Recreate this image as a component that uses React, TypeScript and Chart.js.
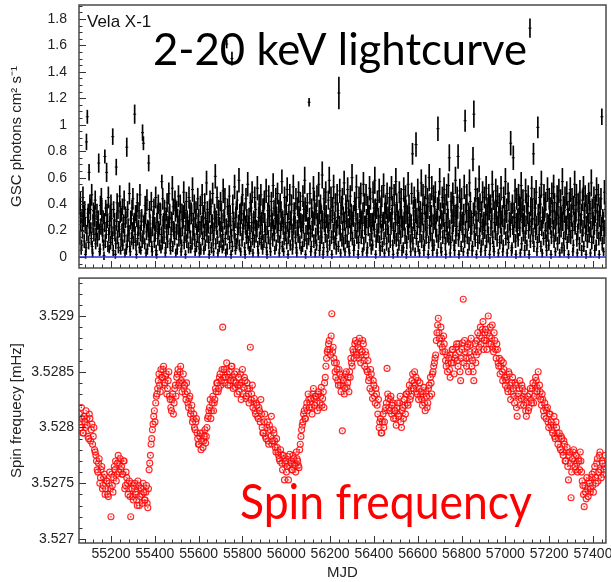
import React, { useEffect, useRef } from 'react';
import { Chart, registerables } from 'chart.js';
Chart.register(...registerables);

// ---------- axis ranges & tick labels ----------
const X_MIN = 55054;
const X_MAX = 57459;
const X_TICKS = [55200, 55400, 55600, 55800, 56000, 56200, 56400, 56600, 56800, 57000, 57200, 57400];
const LC_Y_MIN = -0.083;
const LC_Y_MAX = 1.905;
const LC_Y_TICKS = [0, 0.2, 0.4, 0.6, 0.8, 1.0, 1.2, 1.4, 1.6, 1.8];
const SPIN_Y_MIN = 3.526964;
const SPIN_Y_MAX = 3.52934;
const SPIN_Y_TICKS = [3.527, 3.5275, 3.528, 3.5285, 3.529];

// ---------- lightcurve (2-20 keV), series A: 4-day grid from MJD 55056 ----------
const LC_A_START = 55056;
const LC_STEP = 4;
const lcFluxA = [
  0.38,0.42,0.05,0.31,0.45,0.28,0.36,0.02,0.87,1.06,0.33,0.64,0.40,0.22,0.47,0.03,0.35,0.29,0.43,0.18,
  0.34,0.26,0.71,0.04,0.39,0.44,0.21,0.30,0.01,0.76,0.37,0.64,0.27,0.45,0.06,0.33,0.40,0.19,0.91,0.36,
  0.28,0.02,0.68,0.41,0.35,0.23,0.46,0.05,0.32,0.38,0.25,0.43,0.03,0.30,0.83,0.36,0.20,0.48,0.04,0.29,
  0.37,0.44,0.26,1.08,0.33,0.02,0.41,0.22,0.35,0.47,0.05,0.31,0.94,0.86,0.27,0.39,0.03,0.43,0.24,0.71,
  0.36,0.18,0.42,0.04,0.30,0.38,0.25,0.45,0.02,0.33,0.40,0.21,0.35,0.06,0.57,0.44,0.28,0.37,0.03,0.32,
  0.41,0.26,0.48,0.34,0.05,0.29,0.52,0.38,0.22,0.43,0.03,0.36,0.31,0.46,0.19,0.40,0.04,0.34,0.27,0.49,
  0.35,0.02,0.42,0.30,0.24,0.45,0.37,0.06,0.33,0.51,0.28,0.40,0.04,0.36,0.21,0.44,0.31,0.03,0.39,0.26,
  0.47,0.33,0.05,0.41,0.29,0.56,0.36,0.22,0.02,0.43,0.38,0.27,0.48,0.04,0.34,0.61,0.30,0.45,0.03,0.37,
  0.25,0.42,0.35,0.06,0.50,0.31,0.44,0.03,1.61,0.38,0.27,0.46,0.33,0.02,1.50,0.40,0.29,0.53,0.05,0.36,
  0.43,0.22,0.58,0.34,0.04,0.39,0.47,0.28,0.35,0.02,0.44,0.31,0.55,0.26,0.05,0.41,0.37,0.49,0.03,0.30,
  0.45,0.36,0.24,0.52,0.03,0.40,0.33,0.47,0.29,0.06,0.38,0.43,0.21,0.50,0.02,0.35,0.46,0.31,0.04,0.42,
  0.28,0.54,0.37,0.05,0.44,0.32,0.48,0.25,0.03,0.41,0.36,0.57,0.30,0.04,0.45,0.22,0.39,0.51,0.02,0.34,
  0.47,0.29,0.40,0.06,0.53,0.35,0.26,0.44,0.03,0.38,0.49,0.31,0.42,0.05,0.27,0.46,0.36,0.58,0.02,0.33,
  0.41,0.25,1.17,0.48,0.04,0.37,0.30,0.52,0.43,0.03,0.35,0.46,0.28,0.55,0.05,0.40,0.33,0.62,0.02,0.44,
  0.36,0.49,0.27,0.04,0.43,0.58,0.31,0.45,0.02,0.38,0.53,0.29,0.41,0.06,0.47,0.35,1.24,0.50,0.03,0.39,
  0.44,0.32,0.56,0.04,0.40,0.27,0.51,0.37,0.03,0.46,0.34,0.60,0.29,0.05,0.42,0.38,0.53,0.25,0.02,0.45,
  0.36,0.48,0.30,0.04,0.55,0.41,0.26,0.47,0.03,0.39,0.33,0.52,0.44,0.06,0.28,0.49,0.37,0.58,0.02,0.35,
  0.43,0.31,0.50,0.05,0.38,0.46,0.27,0.54,0.03,0.40,0.35,0.48,0.32,0.04,0.45,0.29,0.52,0.39,0.02,0.47,
  0.34,0.57,0.41,0.03,0.30,0.49,0.36,0.44,0.05,0.26,0.51,0.38,0.46,0.02,0.33,0.55,0.40,0.28,0.04,0.48,
  0.78,0.37,0.45,0.04,0.85,0.31,0.50,0.42,0.03,0.36,0.56,0.29,0.47,0.05,0.39,0.53,0.34,0.44,0.02,0.60,
  0.41,0.33,0.52,0.05,0.46,0.38,0.49,0.30,0.03,0.97,0.43,0.57,0.35,0.04,0.45,0.28,0.51,0.40,0.02,0.47,
  0.36,0.54,0.75,0.03,0.42,0.31,0.48,0.39,0.05,0.58,0.34,0.45,0.76,0.02,0.50,0.37,0.44,0.29,0.04,0.53,
  1.03,0.40,0.47,0.03,0.35,0.56,0.42,0.30,0.05,0.74,1.08,0.38,0.51,0.02,0.44,0.33,0.59,0.41,0.04,0.36,
  0.49,0.27,0.45,0.05,0.52,0.38,0.34,0.47,0.02,0.40,0.31,0.55,0.43,0.04,0.36,0.50,0.29,0.46,0.03,0.41,
  0.37,0.52,0.30,0.04,0.45,0.39,0.57,0.33,0.03,0.48,0.42,0.28,0.86,0.05,0.40,0.75,0.35,0.50,0.02,0.44,
  0.31,0.47,0.39,0.03,0.54,0.36,0.43,0.28,0.05,0.50,0.41,0.34,0.46,0.02,1.73,0.38,0.52,0.29,0.78,0.44,
  0.37,0.49,0.04,0.98,0.33,0.45,0.40,0.55,0.03,0.30,0.47,0.36,0.42,0.05,0.51,0.27,0.44,0.38,0.02,0.48,
  0.35,0.53,0.41,0.04,0.29,0.46,0.38,0.50,0.03,0.43,0.32,0.57,0.39,0.05,0.45,0.26,0.48,0.36,0.02,0.42,
  0.51,0.34,0.44,0.04,0.39,0.55,0.30,0.47,0.03,0.41,0.37,0.49,0.28,0.05,0.43,0.52,0.35,0.46,0.02,0.40,
  0.33,0.48,0.42,0.03,0.56,0.37,0.29,0.45,0.05,0.40,0.51,0.34,0.47,0.02,0.38,0.44,1.06,0.31,0.04,0.49,
  0.36,
];
const lcErrA = [
  .06,.07,.03,.05,.08,.05,.06,.03,.06,.05,.07,.06,.07,.04,.08,.03,.06,.05,.07,.04,
  .06,.05,.07,.03,.07,.08,.04,.05,.03,.05,.06,.07,.05,.08,.03,.06,.07,.04,.06,.06,
  .05,.03,.06,.07,.06,.04,.08,.03,.05,.06,.05,.07,.03,.05,.07,.06,.04,.08,.03,.05,
  .06,.08,.05,.07,.06,.03,.07,.04,.06,.08,.03,.05,.06,.05,.05,.07,.03,.08,.04,.06,
  .06,.04,.07,.03,.05,.06,.05,.08,.03,.06,.07,.04,.06,.03,.05,.08,.05,.06,.03,.05,
  .07,.05,.08,.06,.03,.05,.09,.06,.04,.07,.03,.06,.05,.08,.04,.07,.03,.06,.05,.08,
  .06,.03,.07,.05,.04,.08,.06,.03,.06,.09,.05,.07,.03,.06,.04,.08,.05,.03,.07,.05,
  .08,.06,.03,.07,.05,.09,.06,.04,.03,.07,.06,.05,.08,.03,.06,.09,.05,.08,.03,.06,
  .05,.07,.06,.03,.09,.05,.08,.03,.03,.06,.05,.08,.06,.03,.05,.07,.05,.09,.03,.06,
  .07,.04,.09,.06,.03,.07,.08,.05,.06,.03,.08,.05,.09,.05,.03,.07,.06,.08,.03,.05,
  .08,.06,.04,.09,.03,.07,.06,.08,.05,.04,.06,.07,.04,.09,.03,.06,.08,.05,.03,.07,
  .05,.09,.06,.03,.08,.06,.08,.05,.03,.07,.06,.09,.05,.03,.08,.04,.07,.09,.03,.06,
  .08,.05,.07,.04,.09,.06,.05,.08,.03,.07,.08,.05,.07,.03,.05,.08,.06,.10,.03,.06,
  .07,.05,.03,.08,.03,.07,.05,.09,.07,.03,.06,.08,.05,.09,.04,.07,.06,.10,.03,.08,
  .06,.08,.05,.03,.07,.10,.06,.08,.03,.07,.09,.05,.07,.04,.08,.06,.12,.09,.03,.07,
  .08,.06,.09,.03,.07,.05,.09,.06,.03,.08,.06,.10,.05,.04,.07,.06,.09,.05,.03,.08,
  .06,.08,.05,.03,.09,.07,.05,.08,.03,.07,.06,.09,.08,.04,.05,.08,.06,.10,.03,.06,
  .07,.06,.09,.04,.07,.08,.05,.09,.03,.07,.06,.08,.06,.03,.08,.05,.09,.07,.03,.08,
  .06,.10,.07,.03,.05,.08,.06,.08,.04,.05,.09,.07,.08,.03,.06,.09,.07,.05,.03,.08,
  .08,.06,.08,.03,.09,.06,.09,.07,.03,.06,.10,.05,.08,.04,.07,.09,.06,.08,.03,.10,
  .07,.06,.09,.04,.08,.07,.08,.05,.03,.09,.07,.10,.06,.03,.08,.05,.09,.07,.03,.08,
  .06,.09,.10,.03,.07,.05,.08,.07,.04,.10,.06,.08,.09,.03,.09,.07,.08,.05,.03,.09,
  .08,.07,.08,.03,.06,.10,.07,.05,.04,.09,.10,.07,.09,.03,.08,.06,.10,.07,.03,.06,
  .08,.05,.08,.04,.09,.07,.06,.08,.03,.07,.05,.10,.07,.03,.06,.09,.05,.08,.03,.07,
  .06,.09,.05,.03,.08,.07,.10,.06,.03,.08,.07,.05,.09,.04,.07,.09,.06,.09,.03,.08,
  .05,.08,.07,.03,.10,.06,.08,.05,.04,.09,.07,.06,.08,.03,.07,.07,.09,.05,.08,.08,
  .06,.09,.03,.08,.06,.08,.07,.10,.03,.05,.08,.06,.07,.04,.09,.05,.08,.07,.03,.08,
  .06,.09,.07,.03,.05,.08,.07,.09,.03,.08,.06,.10,.07,.04,.08,.05,.09,.06,.03,.07,
  .09,.06,.08,.03,.07,.10,.05,.08,.03,.07,.06,.09,.05,.04,.08,.09,.06,.08,.03,.07,
  .06,.08,.07,.03,.10,.07,.05,.08,.04,.07,.09,.06,.08,.03,.07,.08,.06,.05,.03,.09,
  .06,
];

// ---------- lightcurve series B: 4-day grid from MJD 55058 (interleaved) ----------
const LC_B_START = 55058;
const lcFluxB = [
  0.15,0.27,0.09,0.20,0.33,0.12,0.24,0.07,0.18,0.30,0.11,0.22,0.36,0.14,0.08,0.25,0.17,0.31,0.10,0.21,
  0.13,0.28,0.19,0.06,0.23,0.35,0.16,0.09,0.26,0.12,0.20,0.32,0.08,0.17,0.24,0.11,0.29,0.14,0.05,0.22,
  0.18,0.10,0.27,0.15,0.07,0.21,0.34,0.13,0.19,0.09,0.25,0.16,0.30,0.06,0.12,0.23,0.18,0.08,0.28,0.14,
  0.20,0.11,0.26,0.17,0.09,0.31,0.14,0.22,0.07,0.18,0.27,0.12,0.15,0.24,0.10,0.33,0.19,0.06,0.21,0.13,
  0.25,0.16,0.08,0.22,0.29,0.12,0.18,0.05,0.26,0.14,0.21,0.09,0.32,0.17,0.11,0.24,0.15,0.28,0.07,0.19,
  0.12,0.23,0.30,0.10,0.17,0.26,0.08,0.21,0.14,0.35,0.19,0.06,0.24,0.13,0.28,0.16,0.09,0.22,0.31,0.11,
  0.18,0.27,0.12,0.20,0.07,0.25,0.15,0.33,0.10,0.19,0.23,0.13,0.29,0.08,0.17,0.26,0.11,0.21,0.06,0.24,
  0.14,0.30,0.19,0.09,0.22,0.16,0.27,0.11,0.34,0.18,0.07,0.25,0.13,0.20,0.29,0.10,0.23,0.15,0.32,0.08,
  0.21,0.12,0.26,0.17,0.09,0.28,0.14,0.23,0.06,0.19,0.31,0.11,0.24,0.16,0.08,0.27,0.20,0.13,0.30,0.10,
  0.17,0.25,0.09,0.22,0.33,0.13,0.19,0.28,0.07,0.24,0.15,0.20,0.11,0.29,0.18,0.08,0.26,0.14,0.22,0.12,
  0.27,0.16,0.21,0.08,0.30,0.14,0.24,0.11,0.19,0.35,0.12,0.26,0.17,0.07,0.23,0.15,0.31,0.10,0.20,0.28,
  0.13,0.22,0.18,0.29,0.09,0.25,0.16,0.34,0.11,0.20,0.27,0.08,0.23,0.14,0.32,0.18,0.10,0.26,0.15,0.21,
  0.09,0.28,0.19,0.12,0.24,0.33,0.15,0.07,0.22,0.17,0.30,0.11,0.26,0.20,0.08,0.25,0.13,0.36,0.18,0.10,
  0.23,0.14,0.29,0.18,0.08,0.21,0.27,0.12,0.32,0.16,0.09,0.24,0.19,0.34,0.11,0.22,0.15,0.28,0.07,0.26,
  0.17,0.31,0.12,0.25,0.20,0.09,0.28,0.15,0.35,0.19,0.11,0.26,0.14,0.22,0.30,0.08,0.24,0.18,0.33,0.13,
  0.21,0.10,0.27,0.16,0.34,0.12,0.23,0.08,0.29,0.18,0.25,0.14,0.31,0.09,0.20,0.36,0.15,0.26,0.11,0.22,
  0.28,0.15,0.20,0.33,0.10,0.24,0.17,0.29,0.07,0.22,0.31,0.13,0.26,0.18,0.09,0.27,0.21,0.35,0.12,0.19,
  0.16,0.25,0.11,0.30,0.19,0.08,0.27,0.14,0.33,0.21,0.10,0.24,0.17,0.36,0.12,0.23,0.29,0.09,0.20,0.15,
  0.26,0.13,0.32,0.18,0.09,0.24,0.15,0.29,0.21,0.07,0.27,0.16,0.34,0.11,0.23,0.19,0.30,0.12,0.25,0.17,
  0.10,0.28,0.20,0.35,0.14,0.23,0.08,0.30,0.17,0.26,0.12,0.33,0.19,0.09,0.27,0.15,0.22,0.38,0.11,0.24,
  0.18,0.31,0.13,0.25,0.09,0.29,0.21,0.16,0.36,0.12,0.24,0.19,0.07,0.28,0.15,0.33,0.20,0.10,0.26,0.17,
  0.29,0.14,0.22,0.11,0.34,0.18,0.26,0.09,0.31,0.16,0.23,0.38,0.13,0.20,0.27,0.08,0.25,0.17,0.32,0.12,
  0.21,0.35,0.15,0.27,0.10,0.30,0.18,0.24,0.08,0.33,0.19,0.13,0.28,0.22,0.11,0.36,0.16,0.26,0.09,0.23,
  0.14,0.27,0.20,0.32,0.12,0.25,0.17,0.37,0.10,0.22,0.29,0.15,0.08,0.26,0.19,0.34,0.13,0.24,0.30,0.11,
  0.25,0.16,0.31,0.09,0.23,0.28,0.14,0.35,0.19,0.11,0.27,0.21,0.33,0.07,0.24,0.17,0.30,0.12,0.26,0.20,
  0.13,0.29,0.22,0.36,0.10,0.26,0.18,0.31,0.15,0.24,0.09,0.33,0.20,0.27,0.12,0.23,0.35,0.16,0.08,0.28,
  0.19,0.24,0.11,0.32,0.17,0.27,0.08,0.22,0.30,0.14,0.36,0.20,0.12,0.26,0.18,0.09,0.29,0.23,0.15,0.34,
  0.22,0.12,0.28,0.18,0.33,0.10,0.25,0.16,0.30,0.21,0.07,0.27,0.14,0.35,0.19,0.24,0.11,0.29,0.17,0.26,
  0.15,0.31,0.20,0.09,0.27,0.23,0.36,0.13,0.19,0.28,0.10,0.25,0.32,0.16,0.22,0.08,0.30,0.18,0.24,0.12,
  0.26,0.17,0.33,0.21,0.11,0.29,0.15,0.24,0.35,0.09,0.20,0.28,0.14,0.31,0.18,0.23,0.10,0.27,0.16,0.22,
];
const lcErrB = [
  .05,.07,.04,.06,.08,.05,.06,.04,.06,.07,.05,.06,.08,.05,.04,.07,.05,.08,.04,.06,
  .05,.07,.06,.04,.06,.08,.05,.04,.07,.05,.06,.08,.04,.05,.07,.05,.07,.05,.04,.06,
  .06,.04,.07,.05,.04,.06,.08,.05,.06,.04,.07,.05,.08,.04,.05,.06,.06,.04,.07,.05,
  .06,.05,.07,.06,.04,.08,.05,.06,.04,.06,.07,.05,.05,.07,.04,.08,.06,.04,.06,.05,
  .07,.05,.04,.06,.07,.05,.06,.04,.07,.05,.06,.04,.08,.06,.05,.07,.05,.07,.04,.06,
  .05,.06,.08,.04,.06,.07,.04,.06,.05,.08,.06,.04,.07,.05,.07,.06,.04,.06,.08,.05,
  .06,.07,.05,.06,.04,.07,.05,.08,.04,.06,.07,.05,.07,.04,.06,.07,.05,.06,.04,.07,
  .05,.08,.06,.04,.06,.05,.07,.05,.08,.06,.04,.07,.05,.06,.08,.04,.06,.05,.08,.04,
  .06,.05,.07,.06,.04,.07,.05,.06,.04,.06,.08,.05,.07,.05,.04,.07,.06,.05,.08,.04,
  .06,.07,.04,.06,.08,.05,.06,.07,.04,.07,.05,.06,.05,.08,.06,.04,.07,.05,.06,.05,
  .07,.05,.06,.04,.08,.05,.07,.05,.06,.09,.05,.07,.06,.04,.06,.05,.08,.04,.06,.07,
  .05,.06,.06,.08,.04,.07,.05,.09,.05,.06,.07,.04,.06,.05,.08,.06,.04,.07,.05,.06,
  .04,.07,.06,.05,.07,.08,.05,.04,.06,.06,.08,.05,.07,.06,.04,.07,.05,.09,.06,.04,
  .06,.05,.08,.06,.04,.06,.07,.05,.08,.06,.04,.07,.06,.09,.05,.06,.05,.07,.04,.07,
  .06,.08,.05,.07,.06,.04,.07,.05,.09,.06,.05,.07,.05,.06,.08,.04,.07,.06,.08,.05,
  .06,.05,.07,.06,.09,.05,.06,.04,.07,.06,.07,.05,.08,.04,.06,.09,.05,.07,.05,.06,
  .07,.05,.06,.08,.05,.07,.06,.07,.04,.06,.08,.05,.07,.06,.04,.07,.06,.09,.05,.06,
  .05,.07,.05,.08,.06,.04,.07,.05,.08,.06,.05,.07,.06,.09,.05,.06,.08,.04,.06,.05,
  .07,.05,.08,.06,.04,.07,.05,.07,.06,.04,.07,.06,.09,.05,.06,.06,.08,.05,.07,.06,
  .05,.07,.06,.09,.05,.06,.04,.08,.06,.07,.05,.08,.06,.04,.07,.05,.06,.09,.05,.07,
  .06,.08,.05,.07,.04,.08,.06,.05,.09,.05,.07,.06,.04,.07,.05,.08,.06,.05,.07,.06,
  .07,.05,.06,.05,.09,.06,.07,.04,.08,.06,.07,.09,.05,.06,.07,.04,.07,.06,.08,.05,
  .06,.09,.05,.07,.05,.08,.06,.07,.04,.08,.06,.05,.07,.06,.05,.09,.06,.07,.04,.06,
  .05,.07,.06,.08,.05,.07,.06,.09,.05,.06,.08,.05,.04,.07,.06,.09,.05,.07,.08,.05,
  .07,.06,.08,.04,.06,.07,.05,.09,.06,.05,.07,.06,.08,.04,.07,.06,.08,.05,.07,.06,
  .05,.08,.06,.09,.05,.07,.06,.08,.05,.07,.04,.08,.06,.07,.05,.06,.09,.06,.04,.07,
  .06,.07,.05,.08,.06,.07,.04,.06,.08,.05,.09,.06,.05,.07,.06,.04,.08,.06,.05,.09,
  .06,.05,.07,.06,.08,.05,.07,.06,.08,.06,.04,.07,.05,.09,.06,.07,.05,.08,.06,.07,
  .05,.08,.06,.04,.07,.06,.09,.05,.06,.07,.05,.07,.08,.05,.06,.04,.08,.06,.07,.05,
  .07,.06,.08,.06,.05,.08,.05,.07,.09,.04,.06,.07,.05,.08,.06,.07,.05,.07,.06,.06,
];

// ---------- spin frequency [mHz], series A: 6-day grid from MJD 55056 ----------
const SPIN_A_START = 55056;
const SPIN_STEP = 6;
const spinFreqA = [
  3.52812,3.52800,3.52808,3.52795,3.52805,3.52815,3.52802,3.52790,3.52808,3.52798,
  3.52785,3.52800,3.52778,3.52770,3.52760,3.52772,3.52755,3.52765,3.52748,3.52758,
  3.52745,3.52752,3.52738,3.52760,3.52720,3.52748,3.52755,3.52762,3.52752,3.52768,
  3.52760,3.52772,3.52765,3.52758,3.52770,3.52748,3.52755,3.52740,3.52752,3.52720,
  3.52745,3.52735,3.52750,3.52740,3.52730,3.52748,3.52738,3.52745,3.52732,3.52742,
  3.52735,3.52748,3.52728,3.52762,3.52775,3.52790,3.52803,3.52815,3.52822,3.52830,
  3.52842,3.52838,3.52852,3.52845,3.52855,3.52840,3.52848,3.52835,3.52850,3.52825,
  3.52815,3.52830,3.52822,3.52838,3.52845,3.52852,3.52840,3.52855,3.52832,3.52848,
  3.52838,3.52825,3.52832,3.52818,3.52828,3.52815,3.52805,3.52812,3.52798,3.52808,
  3.52790,3.52785,3.52795,3.52788,3.52782,3.52792,3.52786,3.52800,3.52810,3.52818,
  3.52808,3.52822,3.52815,3.52825,3.52832,3.52840,3.52835,3.52848,3.52842,3.52890,
  3.52852,3.52845,3.52858,3.52838,3.52850,3.52842,3.52855,3.52835,3.52848,3.52840,
  3.52830,3.52845,3.52838,3.52825,3.52852,3.52836,3.52842,3.52828,3.52835,3.52822,
  3.52872,3.52830,3.52818,3.52826,3.52812,3.52820,3.52808,3.52815,3.52825,3.52800,
  3.52795,3.52812,3.52790,3.52805,3.52785,3.52798,3.52810,3.52788,3.52795,3.52782,
  3.52790,3.52778,3.52772,3.52780,3.52768,3.52775,3.52753,3.52770,3.52765,3.52753,
  3.52776,3.52768,3.52762,3.52772,3.52766,3.52778,3.52770,3.52764,3.52785,3.52798,
  3.52805,3.52815,3.52808,3.52822,3.52830,3.52818,3.52826,3.52812,3.52835,3.52820,
  3.52828,3.52815,3.52832,3.52822,3.52836,3.52826,3.52818,3.52845,3.52862,3.52870,
  3.52878,3.52865,3.52902,3.52872,3.52858,3.52845,3.52852,3.52838,3.52848,3.52832,
  3.52797,3.52842,3.52835,3.52850,3.52840,3.52832,3.52845,3.52858,3.52870,3.52862,
  3.52878,3.52865,3.52872,3.52880,3.52858,3.52868,3.52875,3.52855,3.52865,3.52850,
  3.52842,3.52835,3.52848,3.52826,3.52838,3.52822,3.52830,3.52812,3.52800,3.52808,
  3.52795,3.52812,3.52805,3.52818,3.52853,3.52826,3.52815,3.52828,3.52820,3.52808,
  3.52815,3.52802,3.52822,3.52810,3.52828,3.52800,3.52818,3.52825,3.52812,3.52830,
  3.52820,3.52838,3.52828,3.52842,3.52835,3.52850,3.52845,3.52830,3.52825,3.52840,
  3.52832,3.52820,3.52836,3.52815,3.52828,3.52822,3.52838,3.52845,3.52830,3.52850,
  3.52858,3.52865,3.52885,3.52898,3.52880,3.52890,3.52872,3.52882,3.52868,3.52855,
  3.52850,3.52862,3.52845,3.52858,3.52870,3.52848,3.52865,3.52875,3.52855,3.52868,
  3.52842,3.52870,3.52915,3.52878,3.52862,3.52872,3.52850,3.52868,3.52880,3.52860,
  3.52842,3.52875,3.52865,3.52885,3.52872,3.52890,3.52880,3.52895,3.52878,3.52888,
  3.52870,3.52900,3.52882,3.52875,3.52892,3.52868,3.52878,3.52862,3.52870,3.52855,
  3.52848,3.52860,3.52842,3.52852,3.52838,3.52845,3.52832,3.52848,3.52825,3.52840,
  3.52835,3.52822,3.52838,3.52810,3.52830,3.52842,3.52826,3.52835,3.52820,3.52832,
  3.52810,3.52828,3.52818,3.52835,3.52822,3.52840,3.52828,3.52845,3.52832,3.52850,
  3.52838,3.52825,3.52830,3.52815,3.52822,3.52808,3.52818,3.52800,3.52812,3.52805,
  3.52795,3.52810,3.52790,3.52800,3.52785,3.52795,3.52780,3.52790,3.52775,3.52785,
  3.52770,3.52782,3.52753,3.52778,3.52737,3.52772,3.52780,3.52765,3.52775,3.52760,
  3.52770,3.52778,3.52760,3.52748,3.52729,3.52742,3.52755,3.52738,3.52750,3.52745,
  3.52758,3.52742,3.52765,3.52750,3.52772,3.52760,3.52778,3.52755,3.52768,3.52762,
  3.52775,
];

// ---------- spin frequency series B: 6-day grid from MJD 55059 (interleaved) ----------
const SPIN_B_START = 55059;
const spinFreqB = [
  3.52805,3.52818,3.52795,3.52810,3.52800,3.52808,3.52792,3.52812,3.52788,3.52803,
  3.52792,3.52780,3.52775,3.52762,3.52768,3.52750,3.52762,3.52745,3.52755,3.52740,
  3.52752,3.52740,3.52750,3.52745,3.52758,3.52742,3.52765,3.52770,3.52758,3.52775,
  3.52768,3.52762,3.52758,3.52770,3.52745,3.52760,3.52750,3.52745,3.52738,3.52750,
  3.52738,3.52748,3.52742,3.52735,3.52752,3.52730,3.52746,3.52740,3.52750,3.52735,
  3.52742,3.52732,3.52745,3.52768,3.52785,3.52798,3.52810,3.52805,3.52828,3.52835,
  3.52848,3.52832,3.52845,3.52852,3.52838,3.52846,3.52830,3.52842,3.52828,3.52818,
  3.52825,3.52812,3.52835,3.52828,3.52848,3.52838,3.52850,3.52842,3.52840,3.52835,
  3.52830,3.52840,3.52822,3.52826,3.52812,3.52820,3.52808,3.52800,3.52805,3.52795,
  3.52785,3.52792,3.52780,3.52795,3.52788,3.52798,3.52792,3.52808,3.52815,3.52825,
  3.52815,3.52828,3.52822,3.52835,3.52840,3.52832,3.52845,3.52838,3.52852,3.52845,
  3.52840,3.52852,3.52848,3.52845,3.52838,3.52855,3.52845,3.52842,3.52836,3.52850,
  3.52838,3.52832,3.52848,3.52840,3.52830,3.52845,3.52826,3.52840,3.52830,3.52835,
  3.52825,3.52838,3.52822,3.52815,3.52822,3.52810,3.52818,3.52805,3.52812,3.52795,
  3.52805,3.52792,3.52800,3.52788,3.52802,3.52792,3.52785,3.52798,3.52788,3.52778,
  3.52782,3.52775,3.52770,3.52776,3.52762,3.52772,3.52768,3.52760,3.52774,3.52766,
  3.52770,3.52762,3.52775,3.52768,3.52760,3.52772,3.52766,3.52780,3.52792,3.52802,
  3.52812,3.52808,3.52818,3.52815,3.52825,3.52822,3.52818,3.52830,3.52826,3.52828,
  3.52822,3.52830,3.52818,3.52828,3.52820,3.52832,3.52840,3.52855,3.52868,3.52875,
  3.52870,3.52882,3.52868,3.52862,3.52850,3.52858,3.52842,3.52852,3.52838,3.52845,
  3.52838,3.52830,3.52848,3.52836,3.52845,3.52850,3.52862,3.52855,3.52868,3.52875,
  3.52868,3.52876,3.52862,3.52870,3.52865,3.52878,3.52860,3.52868,3.52852,3.52860,
  3.52845,3.52852,3.52832,3.52842,3.52828,3.52835,3.52820,3.52825,3.52805,3.52795,
  3.52805,3.52800,3.52815,3.52822,3.52830,3.52818,3.52825,3.52812,3.52822,3.52815,
  3.52808,3.52818,3.52812,3.52822,3.52805,3.52815,3.52808,3.52820,3.52830,3.52822,
  3.52832,3.52825,3.52835,3.52848,3.52840,3.52838,3.52832,3.52842,3.52835,3.52828,
  3.52825,3.52830,3.52822,3.52832,3.52818,3.52835,3.52828,3.52840,3.52848,3.52855,
  3.52862,3.52878,3.52892,3.52885,3.52875,3.52880,3.52868,3.52875,3.52860,3.52865,
  3.52858,3.52852,3.52865,3.52870,3.52858,3.52862,3.52872,3.52860,3.52875,3.52850,
  3.52862,3.52876,3.52858,3.52868,3.52855,3.52875,3.52862,3.52874,3.52855,3.52850,
  3.52868,3.52858,3.52878,3.52868,3.52882,3.52875,3.52888,3.52870,3.52885,3.52878,
  3.52885,3.52875,3.52890,3.52880,3.52872,3.52885,3.52870,3.52875,3.52858,3.52862,
  3.52855,3.52850,3.52858,3.52845,3.52842,3.52835,3.52850,3.52838,3.52832,3.52845,
  3.52828,3.52840,3.52818,3.52828,3.52835,3.52820,3.52838,3.52828,3.52825,3.52815,
  3.52822,3.52815,3.52830,3.52825,3.52835,3.52822,3.52838,3.52842,3.52835,3.52828,
  3.52832,3.52820,3.52825,3.52810,3.52818,3.52815,3.52805,3.52812,3.52802,3.52798,
  3.52802,3.52792,3.52805,3.52795,3.52790,3.52782,3.52792,3.52778,3.52788,3.52770,
  3.52778,3.52765,3.52775,3.52768,3.52760,3.52778,3.52770,3.52762,3.52768,3.52772,
  3.52762,3.52770,3.52752,3.52740,3.52748,3.52736,3.52745,3.52752,3.52742,3.52755,
  3.52748,3.52760,3.52755,3.52768,3.52752,3.52775,3.52762,3.52770,3.52758,3.52765,
];

const FONT = '"Liberation Sans", Arial, Helvetica, sans-serif';
const INK = '#222';

// ROOT-style frame with inward major/minor ticks
const rootAxes = {
  id: 'rootAxes',
  afterDatasetsDraw(chart: any, _args: any, opts: any) {
    const { ctx, chartArea: a } = chart;
    ctx.save();
    ctx.strokeStyle = '#333';
    ctx.lineWidth = 1;
    for (const ax of opts.axes || []) {
      const sc = chart.scales[ax.id];
      const vals = sc.ticks.map((t: any) => t.value);
      if (vals.length < 2) continue;
      const step = vals[1] - vals[0];
      const mstep = step / ax.minor;
      const first = vals[0] - step;
      const n = Math.ceil((sc.max - first) / mstep) + 1;
      for (let k = 0; k <= n; k++) {
        const v = first + k * mstep;
        if (v < sc.min - 1e-12 || v > sc.max + 1e-12) continue;
        const major = k % ax.minor === 0;
        const len = major ? 7 : 3.5;
        const p = Math.round(sc.getPixelForValue(v)) + 0.5;
        ctx.beginPath();
        if (sc.isHorizontal()) {
          ctx.moveTo(p, a.bottom);
          ctx.lineTo(p, a.bottom - len);
        } else {
          ctx.moveTo(a.left, p);
          ctx.lineTo(a.left + len, p);
        }
        ctx.stroke();
      }
    }
    ctx.strokeStyle = '#4a4a4a';
    ctx.lineWidth = 1.5;
    ctx.strokeRect(a.left, a.top, a.right - a.left, a.bottom - a.top);
    ctx.restore();
  },
};

const overlayText = {
  id: 'overlayText',
  afterDraw(chart: any, _args: any, opts: any) {
    const { ctx } = chart;
    for (const t of opts.items || []) {
      ctx.save();
      ctx.font = t.font;
      ctx.fillStyle = t.color;
      ctx.textBaseline = 'alphabetic';
      ctx.textAlign = 'left';
      const w = ctx.measureText(t.text).width;
      ctx.translate(t.x, t.y);
      if (t.width) ctx.scale(t.width / w, 1);
      ctx.fillText(t.text, 0, 0);
      ctx.restore();
    }
  },
};

const fixTicks = (vals: number[]) => (s: any) => {
  s.ticks = vals.map((v) => ({ value: v }));
};

function errorBars(flux: number[], err: number[], start: number) {
  return flux.map((v, i) => {
    const e = err[i] ?? 0.05;
    return { x: start + i * LC_STEP, y: [v - e, v + e] };
  });
}
function centres(flux: number[], start: number) {
  return flux.map((v, i) => ({ x: start + i * LC_STEP, y: v }));
}
function spinPoints(freq: number[], start: number) {
  return freq.map((v, i) => ({ x: start + i * SPIN_STEP, y: v }));
}

export default function App() {
  const topRef = useRef<HTMLCanvasElement>(null);
  const botRef = useRef<HTMLCanvasElement>(null);

  useEffect(() => {
    const barStyle = { type: 'bar', backgroundColor: '#000', borderWidth: 0, barThickness: 1, grouped: false, order: 2 };
    const dashStyle = { type: 'line', showLine: false, pointStyle: 'line', pointRadius: 1.5, borderColor: '#000', borderWidth: 1, order: 1 };

    const top = new Chart(topRef.current as HTMLCanvasElement, {
      type: 'bar',
      data: {
        datasets: [
          {
            type: 'line',
            data: [ { x: X_MIN, y: 0 }, { x: X_MAX, y: 0 } ],
            borderColor: '#2b2bd6',
            borderWidth: 1.5,
            pointRadius: 0,
            order: 0,
          } as any,
          { ...dashStyle, data: centres(lcFluxA, LC_A_START) } as any,
          { ...dashStyle, data: centres(lcFluxB, LC_B_START) } as any,
          { ...barStyle, data: errorBars(lcFluxA, lcErrA, LC_A_START) } as any,
          { ...barStyle, data: errorBars(lcFluxB, lcErrB, LC_B_START) } as any,
        ],
      },
      options: {
        animation: false,
        responsive: false,
        devicePixelRatio: 1,
        events: [],
        layout: { padding: { left: 0, top: 5, right: 3, bottom: 4 } },
        plugins: {
          legend: { display: false },
          tooltip: { enabled: false },
          rootAxes: { axes: [ { id: 'x', minor: 5 }, { id: 'y', minor: 4 } ] },
          overlayText: {
            items: [
              { text: 'Vela X-1', x: 87, y: 27, font: `17px ${FONT}`, color: '#111' },
              { text: '2-20 keV lightcurve', x: 153, y: 65, font: '44px Lato, "Open Sans", sans-serif', color: '#000', width: 374 },
            ],
          },
        } as any,
        scales: {
          x: {
            type: 'linear',
            min: X_MIN,
            max: X_MAX,
            offset: false,
            grid: { display: false },
            border: { display: false },
            ticks: { display: false },
            afterBuildTicks: fixTicks(X_TICKS),
            afterFit: (s: any) => { s.height = 0; s.paddingLeft = 0; s.paddingRight = 0; },
          },
          y: {
            type: 'linear',
            min: LC_Y_MIN,
            max: LC_Y_MAX,
            grid: { display: false },
            border: { display: false },
            ticks: {
              padding: 4,
              color: INK,
              font: { family: FONT, size: 14 },
              callback: (v: any) => String(Math.round(Number(v) * 10) / 10),
            },
            title: {
              display: true,
              text: 'GSC photons cm² s⁻¹',
              color: INK,
              font: { family: FONT, size: 15 },
              padding: { top: 8, bottom: 0 },
            },
            afterBuildTicks: fixTicks(LC_Y_TICKS),
            afterFit: (s: any) => { s.width = 79; s.paddingTop = 0; s.paddingBottom = 0; },
          },
        } as any,
      },
      plugins: [rootAxes, overlayText],
    } as any);

    const ringStyle = { pointStyle: 'circle', pointRadius: 3, borderColor: 'rgba(255,0,0,0.85)', backgroundColor: 'rgba(255,200,200,0.2)', borderWidth: 1.1, order: 1 };
    const dotStyle = { pointStyle: 'circle', pointRadius: 0.7, borderWidth: 0, backgroundColor: 'rgba(230,0,0,0.85)', order: 0 };

    const bot = new Chart(botRef.current as HTMLCanvasElement, {
      type: 'scatter',
      data: {
        datasets: [
          { ...dotStyle, data: spinPoints(spinFreqA, SPIN_A_START) } as any,
          { ...dotStyle, data: spinPoints(spinFreqB, SPIN_B_START) } as any,
          { ...ringStyle, data: spinPoints(spinFreqA, SPIN_A_START) } as any,
          { ...ringStyle, data: spinPoints(spinFreqB, SPIN_B_START) } as any,
        ],
      },
      options: {
        animation: false,
        responsive: false,
        devicePixelRatio: 1,
        events: [],
        layout: { padding: { left: 0, top: 4, right: 3, bottom: 0 } },
        plugins: {
          legend: { display: false },
          tooltip: { enabled: false },
          rootAxes: { axes: [ { id: 'x', minor: 5 }, { id: 'y', minor: 5 } ] },
          overlayText: {
            items: [
              { text: 'Spin frequency', x: 240, y: 246, font: '48px Lato, "Open Sans", sans-serif', color: '#ff0000', width: 292 },
            ],
          },
        } as any,
        scales: {
          x: {
            type: 'linear',
            min: X_MIN,
            max: X_MAX,
            offset: false,
            grid: { display: false, drawTicks: false },
            border: { display: false },
            ticks: {
              padding: 3,
              color: INK,
              autoSkip: false,
              maxRotation: 0,
              font: { family: FONT, size: 14 },
              callback: (v: any) => String(v),
            },
            title: {
              display: true,
              text: 'MJD',
              color: INK,
              font: { family: FONT, size: 15 },
              padding: { top: 0, bottom: 0 },
            },
            afterBuildTicks: fixTicks(X_TICKS),
            afterFit: (s: any) => { s.height = 39; s.paddingLeft = 0; s.paddingRight = 0; },
          },
          y: {
            type: 'linear',
            min: SPIN_Y_MIN,
            max: SPIN_Y_MAX,
            grid: { display: false, drawTicks: false },
            border: { display: false },
            ticks: {
              padding: 5,
              color: INK,
              font: { family: FONT, size: 14 },
              callback: (v: any) => String(Math.round(Number(v) * 1e4) / 1e4),
            },
            title: {
              display: true,
              text: 'Spin frequecy [mHz]',
              color: INK,
              font: { family: FONT, size: 15 },
              padding: { top: 8, bottom: 0 },
            },
            afterBuildTicks: fixTicks(SPIN_Y_TICKS),
            afterFit: (s: any) => { s.width = 79; s.paddingTop = 0; s.paddingBottom = 0; },
          },
        } as any,
      },
      plugins: [rootAxes, overlayText],
    } as any);

    return () => {
      top.destroy();
      bot.destroy();
    };
  }, []);

  return (
    <div style={{ position: 'absolute', left: 0, top: 0, width: 611, height: 582, background: '#fff', overflow: 'hidden' }}>
      <canvas ref={topRef} width={611} height={273} style={{ position: 'absolute', left: 0, top: 0 }} />
      <canvas ref={botRef} width={611} height={309} style={{ position: 'absolute', left: 0, top: 273 }} />
    </div>
  );
}
